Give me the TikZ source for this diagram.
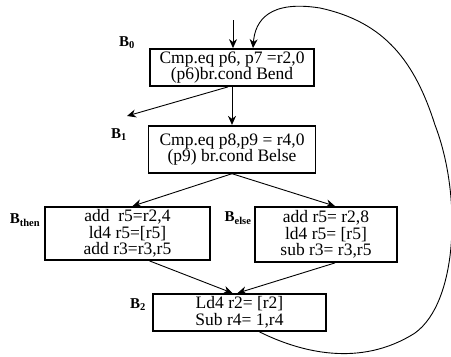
\documentclass[tikz,border=0pt]{standalone}
\usepackage{fontspec}
\setmainfont{Liberation Serif}
\usetikzlibrary{arrows.meta,positioning}
\tikzset{
  cfg/.style={x=1pt,y=-1pt,>={Stealth[length=9pt,width=8pt]}},
  blk/.style={draw,line width=1.8pt,align=center,inner sep=0pt,
    font=\fontsize{17.5}{16.5}\selectfont},
  tag/.style={inner sep=0pt,font=\fontsize{15}{15}\selectfont\bfseries},
  arr/.style={->,line width=0.9pt}}

\begin{document}
\begin{tikzpicture}[cfg]
  \useasboundingbox (0,0) rectangle (451,357);
  % basic blocks
  \node[blk,minimum width=164pt,minimum height=37pt] (B0) at (232,67.5)
    {Cmp.eq p6, p7 =r2,0\\(p6)br.cond Bend};
  \node[blk,minimum width=167pt,minimum height=47pt] (B1) [below=38pt of B0]
    {Cmp.eq p8,p9 = r4,0\\(p9) br.cond Belse};
  \node[blk,minimum width=165pt,minimum height=53pt] (Bthen) at (127.5,233.5)
    {add\ \ r5=r2,4\\ld4 r5=[r5]\\add r3=r3,r5};
  \node[blk,minimum width=142pt,minimum height=55pt] (Belse) at (326,234.5)
    {add r5= r2,8\\ld4 r5= [r5]\\sub r3= r3,r5};
  \node[blk,minimum width=173pt,minimum height=37pt] (B2) at (239.5,312.5)
    {Ld4 r2= [r2]\\Sub r4= 1,r4};
  % block names
  \node[tag] (L0) at (127,43) {B\textsubscript{0}};
  \node[tag] (L1) at (119,135) {B\textsubscript{1}};
  \node[tag] (Lthen) at (25,220) {B\textsubscript{then}};
  \node[tag] (Lelse) at (238,218) {B\textsubscript{else}};
  \node[tag] (L2) at (138,305) {B\textsubscript{2}};
  % entry and exit
  \coordinate (entry) at (233,20);
  \coordinate (exit) at (127,116);
  \draw[arr] (entry) -- (entry |- B0.north);
  \draw[arr] ([xshift=-4pt]B0.south) -- (exit);
  % edges
  \draw[arr] (B0.south) -- (B0.south |- B1.north);
  \draw[arr] (B1.south) -- ([xshift=5pt]Bthen.north);
  \draw[arr] (B1.south) -- ([xshift=9pt]Belse.north);
  \draw[arr] ([xshift=22pt]Bthen.south) -- ([xshift=-7pt]B2.north);
  \draw[arr] ([xshift=9pt]Belse.south) -- ([xshift=-2pt]B2.north);
  % back edge of the loop
  \draw[arr] ([xshift=20pt]B2.south)
    .. controls (300,352) and (360,368) .. (415,333)
    .. controls (458,302) and (462,195) .. (435,125)
    .. controls (415,62) and (385,22) .. (320,8)
    .. controls (270,0) and (255,20) .. ([xshift=21pt]B0.north);
\end{tikzpicture}
\end{document}
